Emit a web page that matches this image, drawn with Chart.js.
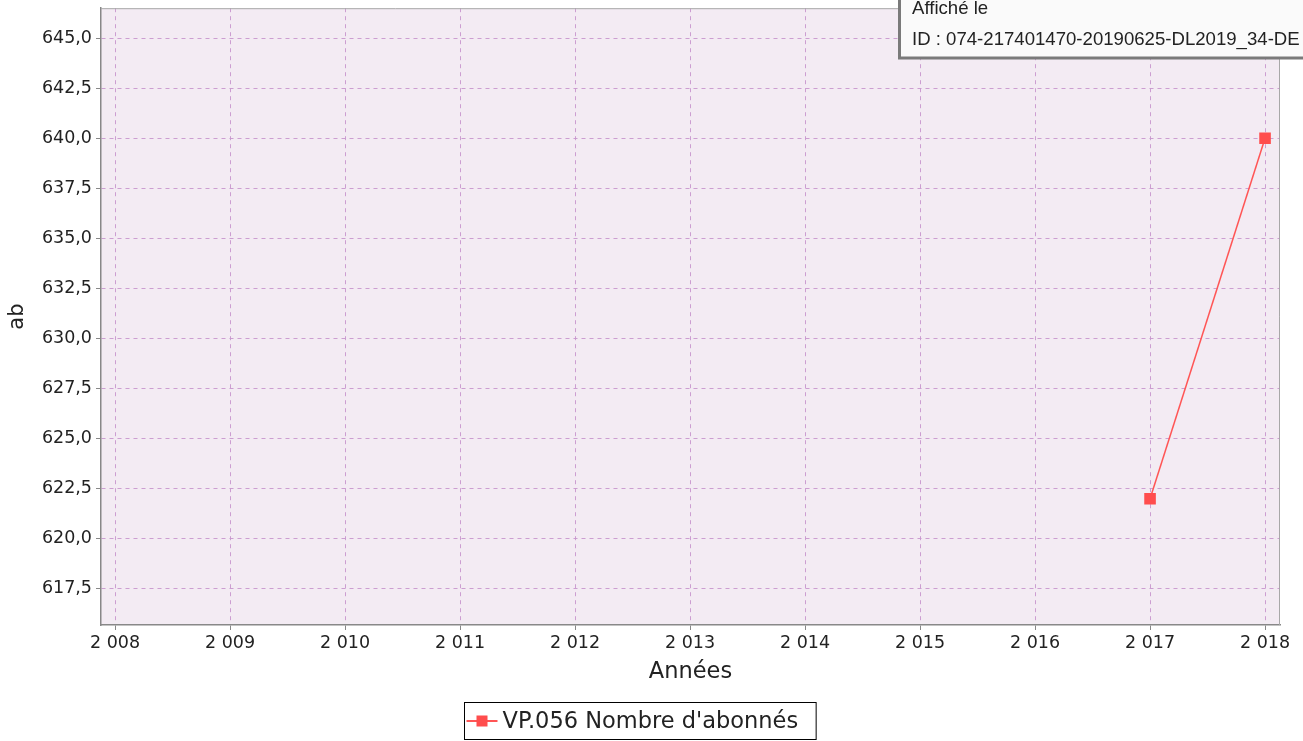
<!DOCTYPE html>
<html>
<head>
<meta charset="utf-8">
<script src="https://cdn.jsdelivr.net/npm/chart.js@4/dist/chart.umd.min.js"></script>
<style>
  html, body { margin: 0; padding: 0; background: #fff; }
  #wrap { width: 1303px; height: 741px; position: relative; }
</style>
</head>
<body>
<div id="wrap"><canvas id="chart"></canvas></div>
<script>
// data
var years = [2008, 2009, 2010, 2011, 2012, 2013, 2014, 2015, 2016, 2017, 2018];
var abonnes = [null, null, null, null, null, null, null, null, null, 622, 640];
var yTicks = [617.5, 620, 622.5, 625, 627.5, 630, 632.5, 635, 637.5, 640, 642.5, 645];
var seriesLabel = "VP.056 Nombre d'abonnés";
var stampLines = ["Affiché le", "ID : 074-217401470-20190625-DL2019_34-DE"];

var red = 'rgb(255,85,85)';
var gridColor = 'rgba(200,150,205,0.9)';

function thousands(v) {
    return String(v).replace(/\B(?=(\d{3})+(?!\d))/g, ' ');
}

// plot background + frame
var plotBg = {
    id: 'plotBg',
    beforeDraw: function(chart) {
        var a = chart.chartArea, ctx = chart.ctx;
        ctx.save();
        ctx.fillStyle = '#f3ebf3';
        ctx.fillRect(a.left, a.top, a.right - a.left, a.bottom - a.top);
        ctx.restore();
    },
    afterDatasetsDraw: function(chart) {
        var a = chart.chartArea, ctx = chart.ctx;
        ctx.save();
        ctx.strokeStyle = '#a8a8a8';
        ctx.lineWidth = 1;
        ctx.beginPath();
        ctx.moveTo(a.left, a.top + 0.5);
        ctx.lineTo(a.right - 0.5, a.top + 0.5);
        ctx.lineTo(a.right - 0.5, a.bottom);
        ctx.stroke();
        ctx.restore();
    }
};

// boxed legend under the chart
var boxLegend = {
    id: 'boxLegend',
    afterDraw: function(chart) {
        var ctx = chart.ctx;
        var ds = chart.data.datasets[0];
        ctx.save();
        ctx.font = '22.5px "DejaVu Sans"';
        var tw = ctx.measureText(ds.label).width;
        var w = tw + 38 + 18;
        var x0 = Math.round(640 - w / 2) + 0.5, y0 = 702.5, h = 37;
        ctx.fillStyle = '#fff';
        ctx.fillRect(x0, y0, w, h);
        ctx.strokeStyle = '#000';
        ctx.lineWidth = 1;
        ctx.strokeRect(x0, y0, w, h);
        var cy = y0 + h / 2;
        ctx.strokeStyle = red;
        ctx.lineWidth = 2;
        ctx.beginPath();
        ctx.moveTo(x0 + 2, cy);
        ctx.lineTo(x0 + 33, cy);
        ctx.stroke();
        ctx.fillStyle = 'rgb(255,77,77)';
        ctx.fillRect(x0 + 12, cy - 5.5, 11, 11);
        ctx.fillStyle = '#222';
        ctx.textBaseline = 'middle';
        ctx.fillText(ds.label, x0 + 38, cy + 1);
        ctx.restore();
    }
};

// stamp box at the top right
var stamp = {
    id: 'stamp',
    afterDraw: function(chart) {
        var ctx = chart.ctx;
        ctx.save();
        ctx.fillStyle = '#fafafa';
        ctx.fillRect(899, -5, 420, 63);
        ctx.strokeStyle = '#7a7a7a';
        ctx.lineWidth = 3;
        ctx.strokeRect(899.5, -5, 420, 63);
        ctx.fillStyle = '#222';
        ctx.font = '18.6px "Liberation Sans", Arial, sans-serif';
        ctx.textBaseline = 'alphabetic';
        ctx.fillText(stampLines[0], 912, 14);
        ctx.fillText(stampLines[1], 912, 45);
        ctx.restore();
    }
};

var ctx = document.getElementById('chart');
new Chart(ctx, {
    type: 'line',
    data: {
        datasets: [{
            label: seriesLabel,
            data: years.map(function(y, i) { return { x: y, y: abonnes[i] }; }),
            borderColor: red,
            backgroundColor: 'rgb(255,77,77)',
            borderWidth: 1.5,
            pointStyle: 'rect',
            pointRadius: 8.2,
            pointBorderWidth: 0,
            pointHoverRadius: 8.2,
            spanGaps: false
        }]
    },
    options: {
        responsive: true,
        maintainAspectRatio: false,
        animation: false,
        layout: { padding: { left: 0, top: 8, right: 23, bottom: 46 } },
        plugins: {
            legend: { display: false },
            tooltip: { enabled: false }
        },
        scales: {
            x: {
                type: 'linear',
                min: 2007.878,
                max: 2018.13,
                afterBuildTicks: function(scale) {
                    scale.ticks = years.map(function(v) { return { value: v }; });
                },
                afterFit: function(scale) {
                    scale.height = 70;
                    scale.paddingLeft = 0;
                    scale.paddingRight = 0;
                },
                ticks: {
                    font: { family: 'DejaVu Sans', size: 17.5 },
                    color: '#222',
                    padding: 3,
                    maxRotation: 0,
                    autoSkip: false,
                    callback: function(v) { return thousands(v); }
                },
                grid: {
                    color: gridColor,
                    lineWidth: 1,
                    tickLength: 5,
                    tickColor: '#888',
                    tickBorderDash: []
                },
                border: { display: true, color: '#888', width: 1.5, dash: [4, 4] },
                title: {
                    display: true,
                    text: 'Années',
                    font: { family: 'DejaVu Sans', size: 22.5 },
                    color: '#222',
                    padding: { top: 0, bottom: 9 }
                }
            },
            y: {
                type: 'linear',
                min: 615.7,
                max: 646.49,
                afterBuildTicks: function(scale) {
                    scale.ticks = yTicks.map(function(v) { return { value: v }; });
                },
                afterFit: function(scale) {
                    scale.width = 101;
                    scale.paddingTop = 0;
                    scale.paddingBottom = 0;
                },
                ticks: {
                    font: { family: 'DejaVu Sans', size: 17.5 },
                    color: '#222',
                    padding: 4,
                    autoSkip: false,
                    callback: function(v) { return v.toFixed(1).replace('.', ','); }
                },
                grid: {
                    color: gridColor,
                    lineWidth: 1,
                    tickLength: 5,
                    tickColor: '#888',
                    tickBorderDash: []
                },
                border: { display: true, color: '#888', width: 1.5, dash: [4, 4] },
                title: {
                    display: true,
                    text: 'ab',
                    font: { family: 'DejaVu Sans', size: 21 },
                    color: '#222',
                    padding: { top: 5, bottom: 0 }
                }
            }
        }
    },
    plugins: [plotBg, boxLegend, stamp]
});
</script>
</body>
</html>
